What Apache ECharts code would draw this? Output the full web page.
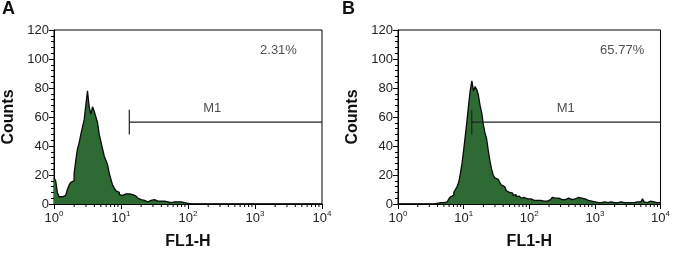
<!DOCTYPE html>
<html>
<head>
<meta charset="utf-8">
<script src="https://cdn.jsdelivr.net/npm/echarts@6/dist/echarts.min.js"></script>
<style>
  html, body { margin: 0; padding: 0; background: #fff; }
  #chart { width: 673px; height: 255px; }
</style>
</head>
<body>
<div id="chart"></div>
<script>
// histogram bins, 40 per decade, from 10^0 to 10^4
var binStep = 0.025;
var countsA = [
  18, 16, 8, 5, 5, 5.5, 6, 7, 10, 13,
  15, 16, 21, 30, 38, 42, 48, 53, 58, 68,
  78, 67, 62, 67, 64, 60, 56, 48, 43, 38,
  33, 30, 27, 21, 17, 13, 11, 9, 8, 6.5,
  6, 6.5, 7, 6, 7, 6, 6.5, 6, 5.5, 4.5,
  4, 3, 2.5, 2.5, 2, 1.5, 2, 2.5, 2.5, 3,
  2.5, 2, 2.5, 2, 1.5, 2, 2, 1.5, 1.5, 1,
  1.5, 1.5, 1, 1.5, 1, 1.5, 2, 1, 0.5, 0.5,
  0, 0, 0, 0, 0, 0, 0, 0, 0, 0,
  0, 0, 0, 0, 0, 0, 0, 0, 0, 0,
  0, 0, 0, 0, 0, 0, 0, 0, 0, 0,
  0, 0, 0, 0, 0, 0, 0, 0, 0, 0,
  0, 0, 0, 0, 0, 0, 0, 0, 0, 0,
  0, 0, 0, 0, 0, 0, 0, 0, 0, 0,
  0, 0, 0, 0, 0, 0, 0, 0, 0, 0,
  0, 0, 0, 0, 0, 0, 0, 0, 0, 0
];
var countsB = [
  0, 0, 0, 0, 0, 0, 0, 0, 0, 0,
  0, 0, 0, 0, 0, 0, 0, 0, 0, 0,
  0, 0, 0, 0.5, 1, 1, 1, 1, 1, 1.5,
  2.5, 3.5, 5, 6, 8, 10, 12, 15, 21, 28,
  37, 47, 57, 68, 78, 85, 78, 81, 79, 75,
  68, 63, 55, 49, 45, 37, 30, 24, 20, 18,
  17, 16, 15, 13, 12, 11, 9, 8, 7, 7.5,
  6, 6.5, 5, 5.5, 4.5, 4, 4.5, 3.5, 3.5, 3,
  3.5, 3, 2.5, 3, 2.5, 2, 2.5, 2, 2, 2.5,
  2, 2.5, 3, 3.5, 4.5, 4, 3.5, 4, 3.5, 3,
  3.5, 3, 3.5, 4, 3.5, 3, 4, 3.5, 4, 4.5,
  3.5, 4, 3, 3.5, 2.5, 2.5, 2, 2, 1.5, 1.5,
  1.5, 1, 1.5, 1, 1, 1.5, 1, 1, 1, 1.5,
  1, 1, 1.5, 1, 1, 1.5, 1, 1, 1.5, 1,
  1, 1, 1.5, 1, 1, 1.5, 1, 1.5, 2, 3.5,
  1.5, 1, 1.5, 2, 1, 1.5, 2, 1, 1.5, 1
];
var percentA = '2.31%';
var percentB = '65.77%';
var gateStart = 13.3;   // M1 left edge
var gateLevel = 56.5;
var gateTick = [48, 65];

function toSteps(counts) {
  var pts = [];
  for (var i = 0; i < counts.length; i++) {
    pts.push([Math.pow(10, i * binStep), counts[i]]);
  }
  pts.push([10000, counts[counts.length - 1]]);
  return pts;
}

// log minor ticks 2..9 of each decade
var minorVals = [];
for (var d = 0; d < 4; d++) {
  for (var k = 2; k <= 9; k++) minorVals.push([k * Math.pow(10, d)]);
}

function minorTick(params, api) {
  var p = api.coord([api.value(0), 0]);
  return {
    type: 'line',
    shape: { x1: p[0], y1: p[1], x2: p[0], y2: p[1] + 3 },
    style: { stroke: '#000', lineWidth: 1 }
  };
}

var chart = echarts.init(document.getElementById('chart'));

var grids = [
  { left: 54, top: 30, width: 268, height: 179 },
  { left: 398, top: 30, width: 267, height: 179 }
];

function xAxisFor(idx) {
  return {
    type: 'log', logBase: 10, gridIndex: idx, min: 1, max: 10000, splitNumber: 4,
    name: 'FL1-H', nameLocation: 'middle', nameGap: 30,
    nameTextStyle: { fontSize: 16, fontWeight: 'bold', color: '#111' },
    axisLine: { lineStyle: { color: '#000', width: 1 } },
    axisTick: { show: true, inside: false, length: 5, lineStyle: { color: '#000' } },
    splitLine: { show: false },
    axisLabel: {
      margin: 6, color: '#222',
      formatter: function (v) {
        var e = Math.round(Math.log(v) / Math.LN10);
        return '{b|10}{s|' + e + '}';
      },
      rich: {
        b: { fontSize: 13, lineHeight: 17, color: '#222' },
        s: { fontSize: 8, lineHeight: 10, verticalAlign: 'top', color: '#222' }
      }
    }
  };
}

function yAxisFor(idx) {
  return {
    type: 'value', gridIndex: idx, min: 0, max: 120, interval: 20,
    name: 'Counts', nameLocation: 'middle', nameGap: 37,
    nameTextStyle: { fontSize: 16, fontWeight: 'bold', color: '#111' },
    axisLine: { show: true, lineStyle: { color: '#000', width: 1 } },
    axisTick: { show: true, length: 5, lineStyle: { color: '#000' } },
    minorTick: { show: true, splitNumber: 5, length: 3, lineStyle: { color: '#000' } },
    splitLine: { show: false },
    axisLabel: { fontSize: 13, color: '#222', margin: 5 }
  };
}

function panelSeries(idx, counts, pct, pctPos, m1Pos) {
  return [
    {
      type: 'line', xAxisIndex: idx, yAxisIndex: idx, step: 'end',
      data: toSteps(counts), symbol: 'none',
      lineStyle: { color: '#0a0a0a', width: 1.3 },
      areaStyle: { color: '#2e6a34', opacity: 1 }
    },
    {
      type: 'line', xAxisIndex: idx, yAxisIndex: idx, symbol: 'none',
      data: [[gateStart, gateLevel], [10000, gateLevel]],
      lineStyle: { color: '#222', width: 1.2 }
    },
    {
      type: 'line', xAxisIndex: idx, yAxisIndex: idx, symbol: 'none',
      data: [[gateStart, gateTick[0]], [gateStart, gateTick[1]]],
      lineStyle: { color: '#222', width: 1.2 }
    },
    {
      type: 'scatter', xAxisIndex: idx, yAxisIndex: idx, symbolSize: 1,
      itemStyle: { color: 'rgba(0,0,0,0)' },
      label: { show: true, position: 'inside', fontSize: 13, color: '#222',
        formatter: function (p) { return p.data.name; } },
      data: [
        { name: pct, value: pctPos },
        { name: 'M1', value: m1Pos }
      ]
    },
    {
      type: 'custom', xAxisIndex: idx, yAxisIndex: idx, renderItem: minorTick,
      data: minorVals, silent: true
    }
  ];
}

var option = {
  animation: false,
  textStyle: { fontFamily: 'Liberation Sans, Arial, sans-serif' },
  title: [
    { text: 'A', left: 2, top: 0, padding: 0, textStyle: { fontSize: 18, fontWeight: 'bold', color: '#111' } },
    { text: 'B', left: 342, top: 0, padding: 0, textStyle: { fontSize: 18, fontWeight: 'bold', color: '#111' } }
  ],
  grid: grids.map(function (g) {
    return Object.assign({ show: true, borderColor: '#000', borderWidth: 1, backgroundColor: '#fff' }, g);
  }),
  xAxis: [xAxisFor(0), xAxisFor(1)],
  yAxis: [yAxisFor(0), yAxisFor(1)],
  series: []
    .concat(panelSeries(0, countsA, percentA, [2240, 106], [230, 66]))
    .concat(panelSeries(1, countsB, percentB, [2600, 106], [360, 66]))
};

chart.setOption(option);
</script>
</body>
</html>
